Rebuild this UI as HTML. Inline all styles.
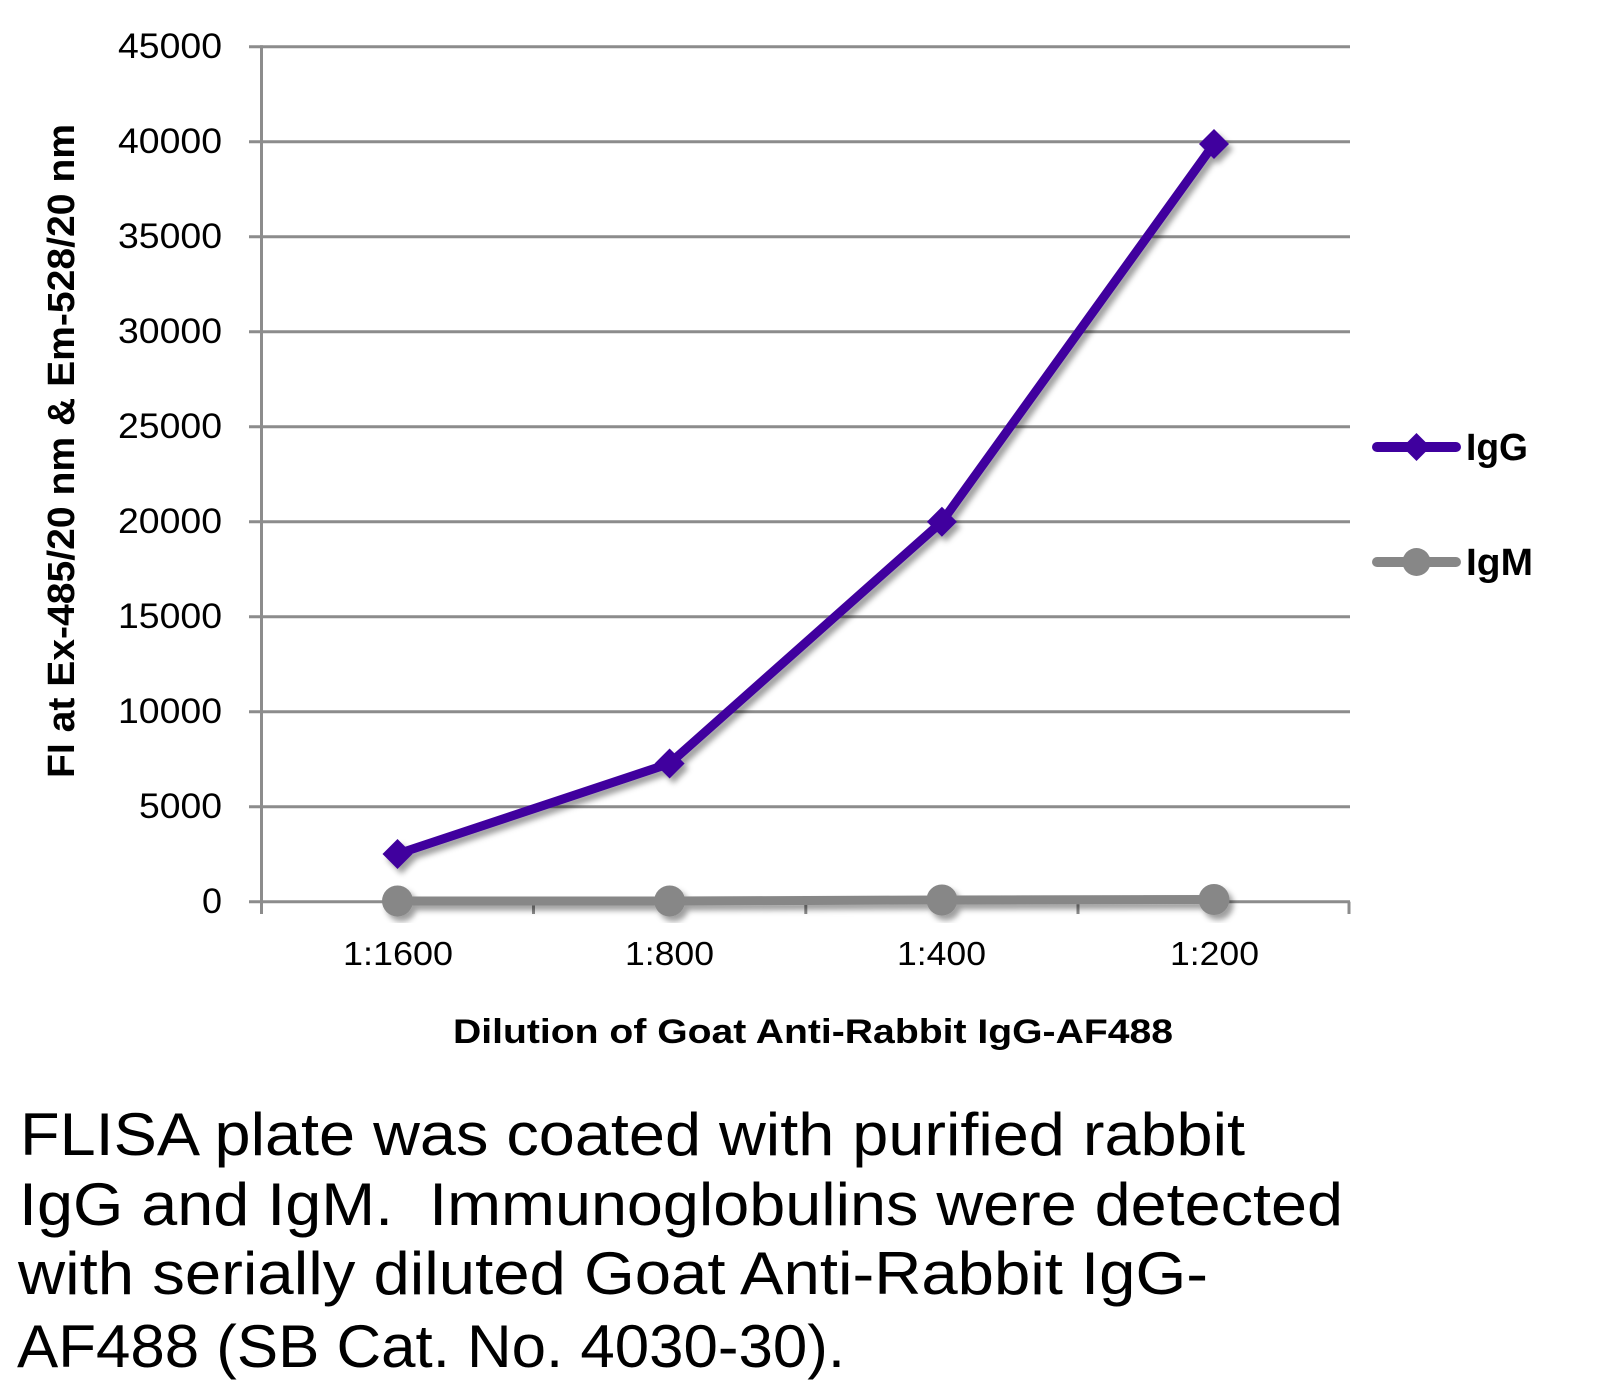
<!DOCTYPE html>
<html>
<head>
<meta charset="utf-8">
<style>
  html, body { margin:0; padding:0; background:#ffffff; }
  body { width:1617px; height:1394px; overflow:hidden; }
  svg { display:block; }
  text { font-family: "Liberation Sans", "DejaVu Sans", sans-serif; fill:#000; }
</style>
</head>
<body>
<svg width="1617" height="1394" viewBox="0 0 1617 1394" xmlns="http://www.w3.org/2000/svg">
  <defs>
    <filter id="sh" x="-10%" y="-10%" width="130%" height="130%">
      <feDropShadow dx="4" dy="5" stdDeviation="3" flood-color="#000" flood-opacity="0.38"/>
    </filter>
  </defs>

  <!-- gridlines -->
  <g stroke="#8c8c8c" stroke-width="3">
    <line x1="249" y1="46.7" x2="1350" y2="46.7"/>
    <line x1="249" y1="141.7" x2="1350" y2="141.7"/>
    <line x1="249" y1="236.7" x2="1350" y2="236.7"/>
    <line x1="249" y1="331.7" x2="1350" y2="331.7"/>
    <line x1="249" y1="426.7" x2="1350" y2="426.7"/>
    <line x1="249" y1="521.7" x2="1350" y2="521.7"/>
    <line x1="249" y1="616.7" x2="1350" y2="616.7"/>
    <line x1="249" y1="711.7" x2="1350" y2="711.7"/>
    <line x1="249" y1="806.7" x2="1350" y2="806.7"/>
    <line x1="249" y1="901.7" x2="1350" y2="901.7"/>
    <!-- y axis -->
    <line x1="261.5" y1="45.2" x2="261.5" y2="914"/>
    <!-- x ticks -->
    <line x1="533.5" y1="901.7" x2="533.5" y2="914"/>
    <line x1="805.8" y1="901.7" x2="805.8" y2="914"/>
    <line x1="1078" y1="901.7" x2="1078" y2="914"/>
    <line x1="1349" y1="901.7" x2="1349" y2="914"/>
  </g>

  <!-- y tick labels -->
  <g font-size="35" text-anchor="end">
    <text x="222" y="58" textLength="104" lengthAdjust="spacingAndGlyphs">45000</text>
    <text x="222" y="153" textLength="104" lengthAdjust="spacingAndGlyphs">40000</text>
    <text x="222" y="248" textLength="104" lengthAdjust="spacingAndGlyphs">35000</text>
    <text x="222" y="343" textLength="104" lengthAdjust="spacingAndGlyphs">30000</text>
    <text x="222" y="438" textLength="104" lengthAdjust="spacingAndGlyphs">25000</text>
    <text x="222" y="533" textLength="104" lengthAdjust="spacingAndGlyphs">20000</text>
    <text x="222" y="628" textLength="104" lengthAdjust="spacingAndGlyphs">15000</text>
    <text x="222" y="723" textLength="104" lengthAdjust="spacingAndGlyphs">10000</text>
    <text x="222" y="818" textLength="83" lengthAdjust="spacingAndGlyphs">5000</text>
    <text x="222" y="913" textLength="20" lengthAdjust="spacingAndGlyphs">0</text>
  </g>

  <!-- x tick labels -->
  <g font-size="33">
    <text x="343" y="965" textLength="110" lengthAdjust="spacingAndGlyphs">1:1600</text>
    <text x="625" y="965" textLength="89" lengthAdjust="spacingAndGlyphs">1:800</text>
    <text x="897" y="965" textLength="89" lengthAdjust="spacingAndGlyphs">1:400</text>
    <text x="1170" y="965" textLength="89" lengthAdjust="spacingAndGlyphs">1:200</text>
  </g>

  <!-- axis titles -->
  <text x="453" y="1043" font-size="34" font-weight="bold" textLength="720" lengthAdjust="spacingAndGlyphs">Dilution of Goat Anti-Rabbit IgG-AF488</text>
  <text transform="translate(74,778) rotate(-90)" x="0" y="0" font-size="38" font-weight="bold" textLength="654" lengthAdjust="spacingAndGlyphs">FI at Ex-485/20 nm &amp; Em-528/20 nm</text>

  <!-- IgG series -->
  <g filter="url(#sh)">
    <polyline points="397.5,854 669.6,763.5 941.9,521.7 1214,144" fill="none" stroke="#3f009e" stroke-width="9" stroke-linejoin="round"/>
    <g fill="#3f009e">
      <polygon points="397.5,839 412.5,854 397.5,869 382.5,854"/>
      <polygon points="669.6,748.5 684.6,763.5 669.6,778.5 654.6,763.5"/>
      <polygon points="941.9,506.7 956.9,521.7 941.9,536.7 926.9,521.7"/>
      <polygon points="1214,129 1229,144 1214,159 1199,144"/>
    </g>
  </g>

  <!-- IgM series -->
  <g filter="url(#sh)">
    <polyline points="397.5,901 669.6,901 941.9,900 1214,899.5" fill="none" stroke="#878787" stroke-width="9"/>
    <g fill="#878787">
      <circle cx="397.5" cy="901" r="15.5"/>
      <circle cx="669.6" cy="901" r="15.5"/>
      <circle cx="941.9" cy="900" r="15.5"/>
      <circle cx="1214" cy="899.5" r="15.5"/>
    </g>
  </g>

  <!-- legend -->
  <line x1="1377" y1="447" x2="1456" y2="447" stroke="#3f009e" stroke-width="10" stroke-linecap="round"/>
  <polygon points="1416.5,433 1430.5,447 1416.5,461 1402.5,447" fill="#3f009e"/>
  <text x="1466" y="460" font-size="38" font-weight="bold" textLength="62" lengthAdjust="spacingAndGlyphs">IgG</text>

  <line x1="1377" y1="562" x2="1456" y2="562" stroke="#878787" stroke-width="10" stroke-linecap="round"/>
  <circle cx="1416.5" cy="562" r="14" fill="#878787"/>
  <text x="1466" y="575" font-size="38" font-weight="bold" textLength="67" lengthAdjust="spacingAndGlyphs">IgM</text>

  <!-- caption -->
  <g font-size="60">
    <text xml:space="preserve" x="20" y="1155" textLength="1225" lengthAdjust="spacingAndGlyphs">FLISA plate was coated with purified rabbit</text>
    <text xml:space="preserve" x="19" y="1225" textLength="1324" lengthAdjust="spacingAndGlyphs">IgG and IgM.  Immunoglobulins were detected</text>
    <text xml:space="preserve" x="18" y="1294" textLength="1190" lengthAdjust="spacingAndGlyphs">with serially diluted Goat Anti-Rabbit IgG-</text>
    <text xml:space="preserve" x="17" y="1367" textLength="828" lengthAdjust="spacingAndGlyphs">AF488 (SB Cat. No. 4030-30).</text>
  </g>
</svg>
</body>
</html>
